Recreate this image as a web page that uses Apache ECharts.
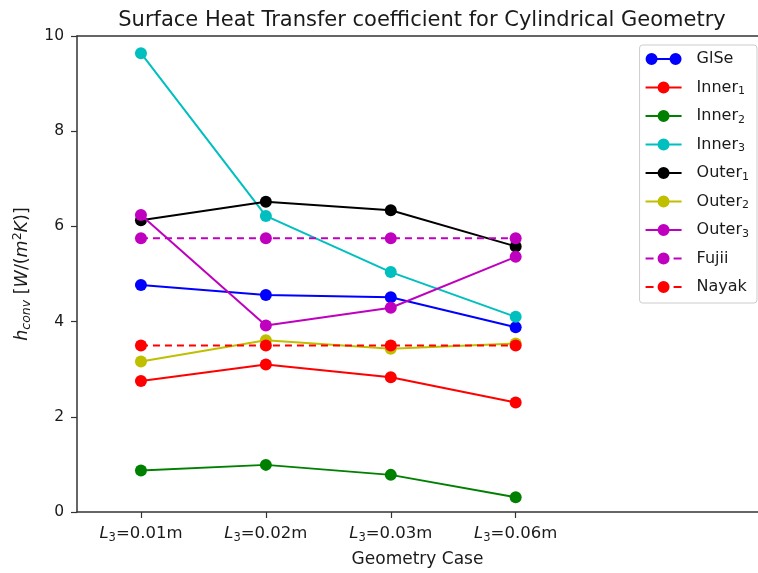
<!DOCTYPE html>
<html>
<head>
<meta charset="utf-8">
<script src="https://cdn.jsdelivr.net/npm/echarts@6/dist/echarts.min.js"></script>
<style>
  html, body { margin: 0; padding: 0; background: #fff; }
  #chart { width: 758px; height: 573px; }
</style>
</head>
<body>
<div id="chart"></div>
<script>
// Geometry cases (L3 lengths) along the x axis
const caseLabels = ['0.01m', '0.02m', '0.03m', '0.06m'];
const yTicks = [0, 2, 4, 6, 8, 10];

// Convective heat transfer coefficient per case, W/(m^2 K)
const glse   = [4.77, 4.56, 4.51, 3.88];
const inner1 = [2.75, 3.10, 2.83, 2.30];
const inner2 = [0.87, 0.99, 0.78, 0.31];
const inner3 = [9.64, 6.22, 5.04, 4.10];
const outer1 = [6.13, 6.52, 6.34, 5.58];
const outer2 = [3.16, 3.61, 3.43, 3.54];
const outer3 = [6.24, 3.92, 4.29, 5.36];
const fujii  = [5.75, 5.75, 5.75, 5.75];
const nayak  = [3.50, 3.50, 3.50, 3.50];

const FONT = 'DejaVu Sans';
const TXT = '#1a1a1a';

const seriesDefs = [
  { name: 'GlSe',   data: glse,   color: '#0000ff', dash: false },
  { name: 'Inner1', data: inner1, color: '#ff0000', dash: false },
  { name: 'Inner2', data: inner2, color: '#008000', dash: false },
  { name: 'Inner3', data: inner3, color: '#00bfbf', dash: false },
  { name: 'Outer1', data: outer1, color: '#000000', dash: false },
  { name: 'Outer2', data: outer2, color: '#bfbf00', dash: false },
  { name: 'Outer3', data: outer3, color: '#bf00bf', dash: false },
  { name: 'Fujii',  data: fujii,  color: '#bf00bf', dash: true },
  { name: 'Nayak',  data: nayak,  color: '#ff0000', dash: true }
];

const series = seriesDefs.map((s, k) => ({
  name: s.name,
  type: 'line',
  data: s.data.map((v, i) => [i, v]),
  symbol: 'circle',
  symbolSize: 12,
  z: 2 + k,
  itemStyle: { color: s.color },
  lineStyle: { color: s.color, width: 2, type: s.dash ? [7, 5] : 'solid' },
  emphasis: { disabled: true },
  animation: false
}));

// Legend handles drawn in a 36x12 box: line plus marker
const DOT_MID = 'M12,6A6,6,0,1,1,24,6A6,6,0,1,1,12,6Z';
const ICON_SOLID = 'path://M0,5H36V7H0Z ' + DOT_MID;
const ICON_DASHED = 'path://M0,5H8V7H0Z M28,5H36V7H28Z ' + DOT_MID;
// GlSe handle: a marker at each end of the line
const ICON_GLSE = 'path://M0,6A6,6,0,1,1,12,6A6,6,0,1,1,0,6Z M24,6A6,6,0,1,1,36,6A6,6,0,1,1,24,6Z M6,5H30V7H6Z';

const legendData = seriesDefs.map(s => ({
  name: s.name,
  icon: s.name === 'GlSe' ? ICON_GLSE : (s.dash ? ICON_DASHED : ICON_SOLID),
  itemStyle: { color: s.color, borderWidth: 0 }
}));

const chart = echarts.init(document.getElementById('chart'), null, { renderer: 'canvas' });

chart.setOption({
  animation: false,
  backgroundColor: '#ffffff',
  title: {
    text: 'Surface Heat Transfer coefficient for Cylindrical Geometry',
    left: 417,
    textAlign: 'center',
    top: 5,
    textStyle: { fontFamily: FONT, fontSize: 21, fontWeight: 'normal', color: TXT }
  },
  grid: { left: 77, right: 0, top: 36, bottom: 60, containLabel: false },
  legend: {
    orient: 'vertical',
    right: 1,
    top: 45,
    padding: [4, 8, 6, 6],
    itemWidth: 36,
    itemHeight: 12,
    itemGap: 8.5,
    backgroundColor: 'rgba(255,255,255,0.85)',
    borderColor: '#cccccc',
    borderWidth: 1,
    borderRadius: 3,
    data: legendData,
    formatter: function (name) {
      const m = name.match(/^(Inner|Outer)(\d)$/);
      return '{gap|}' + (m ? m[1] + '{sub|' + m[2] + '}' : name);
    },
    textStyle: {
      fontFamily: FONT, fontSize: 16, color: TXT, lineHeight: 20,
      rich: {
        gap: { width: 10, lineHeight: 20 },
        sub: { fontFamily: FONT, fontSize: 11, color: TXT, lineHeight: 20, padding: [8, 0, 0, 0] }
      }
    }
  },
  xAxis: [{
    type: 'value',
    min: -0.512,
    max: 4.94,
    position: 'bottom',
    name: 'Geometry Case',
    nameLocation: 'middle',
    nameGap: 39,
    nameTextStyle: { fontFamily: FONT, fontSize: 17, color: TXT },
    splitLine: { show: false },
    axisLine: { show: true, onZero: false, lineStyle: { color: '#333', width: 1.5 } },
    axisTick: { show: true, length: 6, customValues: [0, 1, 2, 3], lineStyle: { color: '#333', width: 1.2 } },
    axisLabel: {
      show: true,
      customValues: [0, 1, 2, 3],
      margin: 12,
      formatter: function (v) {
        const idx = Math.round(v);
        return '{i|L}{sub|3}=' + caseLabels[idx];
      },
      fontFamily: FONT, fontSize: 16.5, color: TXT,
      rich: {
        i: { fontFamily: FONT, fontSize: 16.5, fontStyle: 'italic', color: TXT },
        sub: { fontFamily: FONT, fontSize: 11.5, color: TXT, padding: [8, 0, 0, 0] }
      }
    }
  }, {
    type: 'value',
    min: -0.512,
    max: 4.94,
    position: 'top',
    splitLine: { show: false },
    axisLine: { show: true, onZero: false, lineStyle: { color: '#333', width: 1.5 } },
    axisTick: { show: false },
    axisLabel: { show: false }
  }],
  yAxis: {
    type: 'value',
    min: yTicks[0],
    max: yTicks[yTicks.length - 1],
    interval: 2,
    name: '{i|h}{sub|conv} [{i|W}/({i|m}{sup|2}{i|K})]',
    nameLocation: 'middle',
    nameRotate: 90,
    nameGap: 43,
    nameTextStyle: {
      fontFamily: FONT, fontSize: 17.5, color: TXT,
      rich: {
        i: { fontFamily: FONT, fontSize: 17.5, fontStyle: 'italic', color: TXT },
        sub: { fontFamily: FONT, fontSize: 12.5, fontStyle: 'italic', color: TXT, padding: [9, 0, 0, 0] },
        sup: { fontFamily: FONT, fontSize: 12.5, color: TXT, padding: [0, 0, 9, 0] }
      }
    },
    splitLine: { show: false },
    axisLine: { show: true, onZero: false, lineStyle: { color: '#333', width: 1.5 } },
    axisTick: { show: true, length: 6, lineStyle: { color: '#333', width: 1.2 } },
    axisLabel: { margin: 13, fontFamily: FONT, fontSize: 15.5, color: TXT }
  },
  series: series
});
</script>
</body>
</html>
